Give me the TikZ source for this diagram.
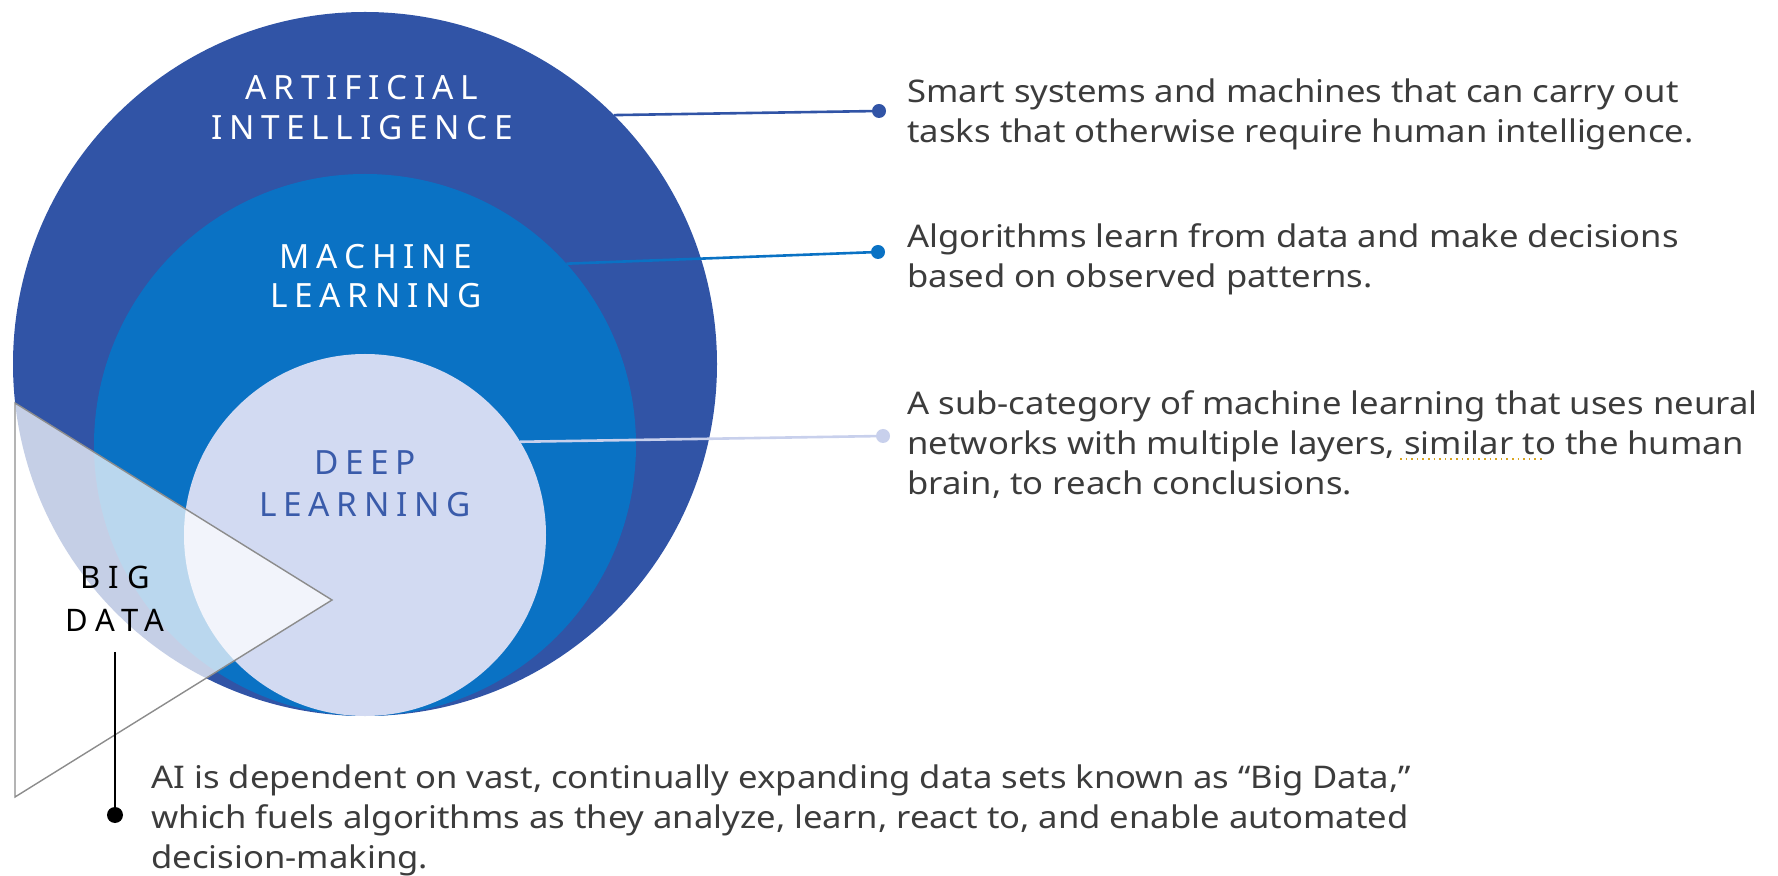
\documentclass[tikz,border=0pt]{standalone}
\usepackage{fontspec}
\setmainfont{Noto Sans}[FakeStretch=1.11]
\newfontfamily\labfont[LetterSpace=20]{Noto Sans}
\newfontfamily\bdfont[LetterSpace=26]{Noto Sans}
\definecolor{aiblue}{HTML}{3154A6}
\definecolor{mlblue}{HTML}{0A72C4}
\definecolor{dlblue}{HTML}{D2DAF2}
\definecolor{dltext}{HTML}{3A5BAA}
\definecolor{desctext}{HTML}{3C3C3C}
\definecolor{dotdl}{HTML}{C8D0EC}
\definecolor{trigray}{HTML}{8C8C8C}
\definecolor{spell}{HTML}{D9A520}
\begin{document}
\begin{tikzpicture}[x=0.5pt,y=-0.5pt,
  ring/.style={circle, draw=none, inner sep=0, outer sep=0},
  dot/.style={circle, inner sep=0, outer sep=0, minimum size=7pt},
  lab/.style={font=\labfont\fontsize{16.7}{20}\selectfont, anchor=base, inner sep=0},
  bdlab/.style={font=\bdfont\fontsize{15.5}{20}\selectfont, anchor=base, inner sep=0, text=black},
  desc/.style={font=\fontsize{15.6}{20}\selectfont, text=desctext, align=left, anchor=base west, inner sep=0},
  conn/.style={line width=1.3pt}]
\useasboundingbox (0,0) rectangle (1778,876);
% circles
\node[ring, fill=aiblue, minimum size=352pt] (ai) at (365,364) {};
\node[ring, fill=mlblue, minimum size=271pt] (ml) at (365,445) {};
\node[ring, fill=dlblue, minimum size=181pt] (dl) at (365,535) {};
% big data triangle
\coordinate (t1) at (15,403);
\coordinate (t2) at (332,600);
\coordinate (t3) at (15,797);
\fill[white, opacity=0.72] (t1) -- (t2) -- (t3) -- cycle;
\draw[trigray, line width=0.7pt, line join=miter] (t1) -- (t2) -- (t3) -- cycle;
% labels
\node[lab, text=white] (ail1) at (362,100) {ARTIFICIAL};
\node[lab, text=white] (ail2) at (362,140) {INTELLIGENCE};
\node[lab, text=white] (mll1) at (376,269) {MACHINE};
\node[lab, text=white] (mll2) at (376,308) {LEARNING};
\node[lab, text=dltext] (dll1) at (365,475) {DEEP};
\node[lab, text=dltext] (dll2) at (365,517) {LEARNING};
\node[bdlab] (bdl1) at (115,589) {BIG};
\node[bdlab] (bdl2) at (115,632) {DATA};
% dots
\node[dot, fill=aiblue] (aidot) at (879,111) {};
\node[dot, fill=mlblue] (mldot) at (878,252) {};
\node[dot, fill=dotdl] (dldot) at (883,436) {};
\node[dot, fill=black, minimum size=8pt] (bddot) at (115,815) {};
\coordinate (bdtop) at (115,652);
% connectors
\draw[conn, aiblue] (ai.45.5) -- (aidot.center);
\draw[conn, mlblue] (ml.42.5) -- (mldot.center);
\draw[conn, dotdl] (dl.31) -- (dldot.center);
\draw[conn, black] (bdtop) -- (bddot.center);
% descriptions (anchor = baseline of last line)
\node[desc] (aitxt) at (907,143) {Smart systems and machines that can carry out\\tasks that otherwise require human intelligence.};
\node[desc] (mltxt) at (907,288) {Algorithms learn from data and make decisions\\based on observed patterns.};
\node[desc] (dltxt) at (907,495) {A sub-category of machine learning that uses neural\\networks with multiple layers, similar to the human\\brain, to reach conclusions.};
\node[desc] (bdtxt) at (151,868) {AI is dependent on vast, continually expanding data sets known as ``Big Data,''\\which fuels algorithms as they analyze, learn, react to, and enable automated\\decision-making.};
% spell-check underline
\coordinate (ul1) at (1400,459);
\coordinate (ul2) at (1545,459);
\draw[spell, dotted, line width=0.8pt] (ul1) -- (ul2);
\end{tikzpicture}
\end{document}
